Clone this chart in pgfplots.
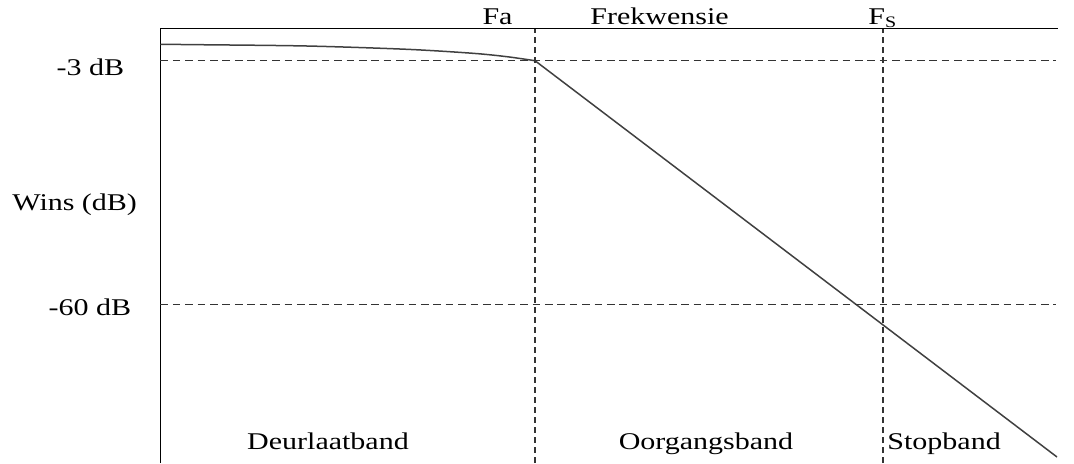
\documentclass[border=0pt]{standalone}
\usepackage{fontspec}
\setmainfont{Liberation Serif}
\usepackage{graphicx}
\usepackage{pgfplots}
\pgfplotsset{compat=1.18}

% text in the reference is a bit wider than plain Times
\newcommand\lbl[1]{{\fontsize{12}{14}\selectfont\scalebox{1.25}[1]{#1}}}

\begin{document}
\begin{tikzpicture}
\begin{axis}[
    scale only axis,
    width=448.75pt,
    height=217.25pt,
    xmin=160.5, xmax=1058,
    ymin=0, ymax=434.5,
    axis x line=top,
    axis y line=left,
    axis line style={-, line width=0.8pt, black},
    xtick=\empty, ytick=\empty,
    clip=false,
]
% doorlaatband, sag tot -3 dB by Fa
\addplot[smooth, line width=0.75pt, black!75] coordinates {
    (160.5,418.7) (200,418.3) (307,417.0) (407,413.7)
    (473,409.7) (507,406.3) (535,402.3)
};
% afrol
\addplot[line width=0.75pt, black!75] coordinates {(535,402.3) (1057,6)};

% hulplyne
\addplot[dash pattern=on 3.8pt off 2.4pt, line width=0.7pt, black!80]
    coordinates {(160.5,402.3) (1056,402.3)};
\addplot[dash pattern=on 3.8pt off 2.4pt, line width=0.7pt, black!80]
    coordinates {(160.5,158.5) (1056,158.5)};
\addplot[dash pattern=on 3pt off 2pt, line width=0.65pt, black!80]
    coordinates {(535,0) (535,434.5)};
\addplot[dash pattern=on 3pt off 2pt, line width=0.65pt, black!80]
    coordinates {(883,0) (883,434.5)};

\node[inner sep=0pt, anchor=base] at (axis cs:90.5,388) {\lbl{-3 dB}};
\node[inner sep=0pt, anchor=base] at (axis cs:74.7,253) {\lbl{Wins (dB)}};
\node[inner sep=0pt, anchor=base] at (axis cs:90,148) {\lbl{-60 dB}};
\node[inner sep=0pt, anchor=base] at (axis cs:497.5,439) {\lbl{Fa}};
\node[inner sep=0pt, anchor=base] at (axis cs:659.5,439) {\lbl{Frekwensie}};
\node[inner sep=0pt, anchor=base west] at (axis cs:868,439) {\lbl{F\textsubscript{S}}};
\node[inner sep=0pt, anchor=base] at (axis cs:328,14) {\lbl{Deurlaatband}};
\node[inner sep=0pt, anchor=base] at (axis cs:706,14) {\lbl{Oorgangsband}};
\node[inner sep=0pt, anchor=base west] at (axis cs:887,14) {\lbl{Stopband}};

\coordinate (bbsw) at (axis cs:0,0);
\coordinate (bbne) at (axis cs:1074,463);
\end{axis}
\pgfresetboundingbox
\path[use as bounding box] (bbsw) rectangle (bbne);
\end{tikzpicture}
\end{document}
